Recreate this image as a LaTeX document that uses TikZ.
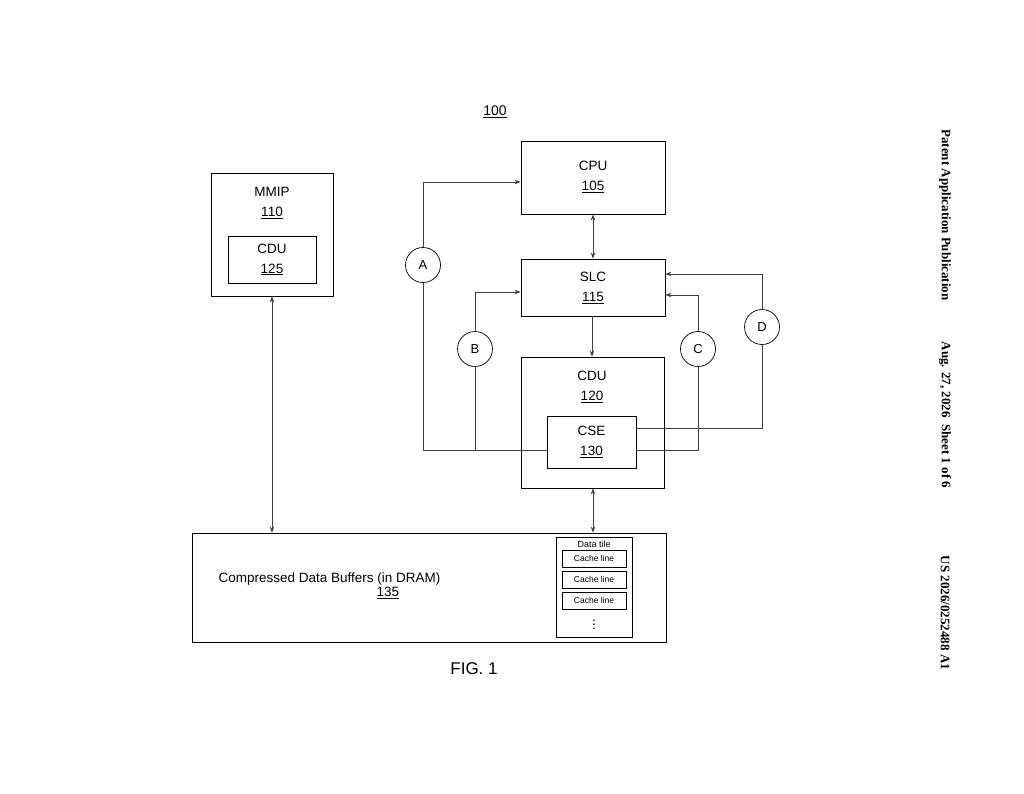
\documentclass[tikz,border=0pt]{standalone}
\usepackage{fontspec}
\setmainfont{Liberation Sans}
\newfontfamily\hdr{Liberation Serif}
\usetikzlibrary{arrows.meta}
\begin{document}
\begin{tikzpicture}[x=1pt,y=-1pt,
  box/.style={draw,line width=0.8pt,inner sep=0},
  circ/.style={draw,circle,minimum size=35pt,inner sep=0,line width=0.7pt,font=\fontsize{13}{15}\selectfont},
  lab/.style={align=center,font=\fontsize{13.5}{20}\selectfont},
  ln/.style={draw=black!75,line width=0.7pt},
  con/.style={ln,-{Stealth[length=6pt,width=4.5pt]}},
  dcon/.style={con,{Stealth[length=6pt,width=4.5pt]}-{Stealth[length=6pt,width=4.5pt]}}]
\useasboundingbox (0,0) rectangle (1024,794);
\node[box,minimum width=144pt,minimum height=73pt] (cpu) at (593,177.5) {};
\node[lab] at (593,177) {CPU\\\underline{105}};
\node[box,minimum width=144pt,minimum height=57pt] (slc) at (593,287.5) {};
\node[lab] at (593,288) {SLC\\\underline{115}};
\node[box,minimum width=143pt,minimum height=131pt] (cdu) at (592.5,422.5) {};
\node[lab] at (592,387) {CDU\\\underline{120}};
\node[box,minimum width=89pt,minimum height=52pt,fill=white] (cse) at (591.5,442) {};
\node[lab] at (591.5,442) {CSE\\\underline{130}};
\node[box,minimum width=122pt,minimum height=123pt] (mmip) at (272,234.5) {};
\node[lab] at (272,203) {MMIP\\\underline{110}};
\node[box,minimum width=88pt,minimum height=47pt] (cdu2) at (272,259.5) {};
\node[lab] at (272,259.5) {CDU\\\underline{125}};
\node[box,minimum width=474pt,minimum height=109pt] (buf) at (429,587.5) {};
\node[lab,anchor=west] at (215,586) {Compressed Data Buffers (in DRAM)\\[-6pt]\hspace*{117pt}\underline{135}};
\node[box,minimum width=76pt,minimum height=100pt] (tile) at (594,587) {};
\node[font=\fontsize{9}{10}\selectfont] at (594,544) {Data tile};
\foreach \y/\n in {558.5/c1,579.5/c2,600.5/c3}
  \node[box,minimum width=64pt,minimum height=17pt,font=\fontsize{8.5}{10}\selectfont] (\n) at (594,\y) {Cache line};
\node[font=\fontsize{14}{16}\selectfont] at (594,622) {$\vdots$};
\node[circ] (A) at (423,265) {A};
\node[circ] (B) at (475,349) {B};
\node[circ] (C) at (698,349) {C};
\node[circ] (D) at (762,327) {D};
\coordinate (cseL) at (547,450);
\coordinate (cseR) at (636,450);
\coordinate (cseR2) at (636,428);
\coordinate (bj) at (475,450);
\draw[con] (cseL) -| (A) |- (cpu.west |- 0,182);
\draw[ln] (B.south) -- (bj);
\draw[con] (B) |- (slc.west |- 0,292);
\draw[con] (cseR) -| (C) |- (slc.east |- 0,295);
\draw[con] (cseR2) -| (D) |- (slc.east |- 0,274);
\draw[dcon] (cpu.south) -- (slc.north);
\draw[con] (slc.south -| 592,0) -- (cdu.north -| 592,0);
\draw[dcon] (cdu.south -| 593,0) -- (buf.north -| 593,0);
\draw[dcon] (mmip.south) -- (buf.north -| mmip.south);
\node[font=\fontsize{14}{16}\selectfont] at (495,112) {\underline{100}};
\node[font=\fontsize{17}{20}\selectfont] at (474,669) {FIG. 1};
\node[rotate=-90,font=\hdr\bfseries\fontsize{13}{15}\selectfont] at (945,215) {Patent Application Publication};
\node[rotate=-90,font=\hdr\bfseries\fontsize{13}{15}\selectfont] at (945,415) {Aug. 27, 2026\ \ Sheet 1 of 6};
\node[rotate=-90,font=\hdr\bfseries\fontsize{13}{15}\selectfont] at (945,613) {US 2026/0252488 A1};
\end{tikzpicture}
\end{document}
